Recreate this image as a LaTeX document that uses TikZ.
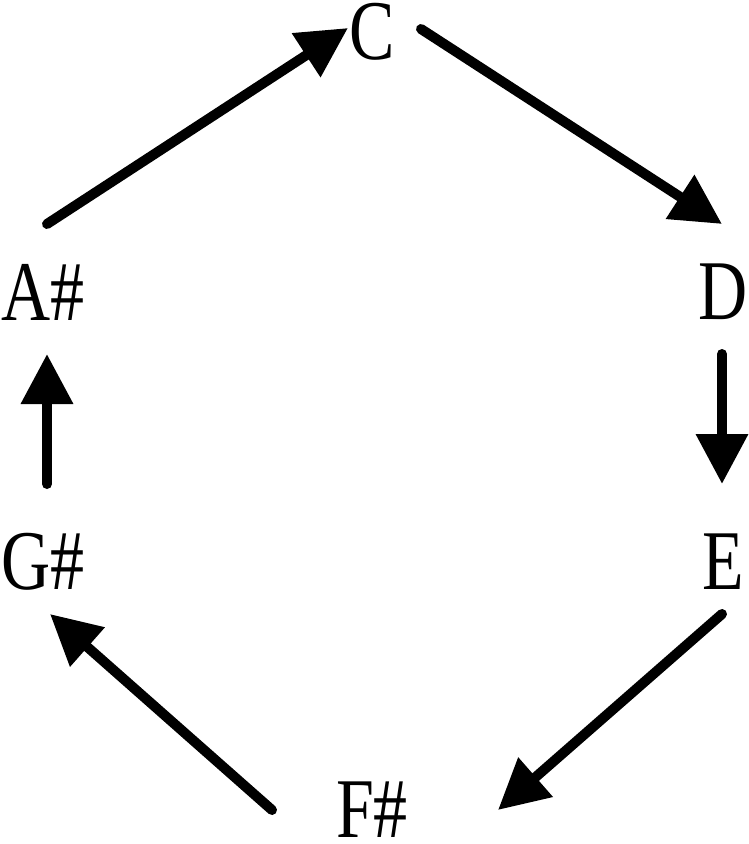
\documentclass[tikz,border=0pt]{standalone}
\usepackage{fontspec}
\setmainfont{Liberation Serif}
\usetikzlibrary{arrows.meta}
\newcommand{\notetxt}[1]{\scalebox{0.8}[1]{\fontsize{85}{85}\selectfont #1}}
\tikzset{
  note/.style={inner sep=0pt, anchor=center},
  arr/.style={line width=10pt, line cap=round, -{Triangle[length=50pt,width=50pt]}}
}
\begin{document}
\begin{tikzpicture}[x=1pt,y=-1pt]
\useasboundingbox (0,0) rectangle (749,844);
\node[note] (C) at (372,32) {\notetxt{C}};
\node[note] (D) at (723,292) {\notetxt{D}};
\node[note] (E) at (723,562) {\notetxt{E}};
\node[note] (Fs) at (372,810) {\notetxt{F\#}};
\node[note] (Gs) at (43,562) {\notetxt{G\#}};
\node[note] (As) at (43,292) {\notetxt{A\#}};
\coordinate (as1) at (47,224);
\coordinate (c0) at (348,28);
\coordinate (c1) at (421,29);
\coordinate (d0) at (722,224);
\coordinate (d1) at (722,354);
\coordinate (e0) at (722,484);
\coordinate (e1) at (722,614);
\coordinate (fs0) at (498,810);
\coordinate (fs1) at (272,810);
\coordinate (gs0) at (50,614);
\coordinate (gs1) at (47,484);
\coordinate (as0) at (47,354);
\draw[arr] (as1) -- (c0);
\draw[arr] (c1) -- (d0);
\draw[arr] (d1) -- (e0);
\draw[arr] (e1) -- (fs0);
\draw[arr] (fs1) -- (gs0);
\draw[arr] (gs1) -- (as0);
\end{tikzpicture}
\end{document}
